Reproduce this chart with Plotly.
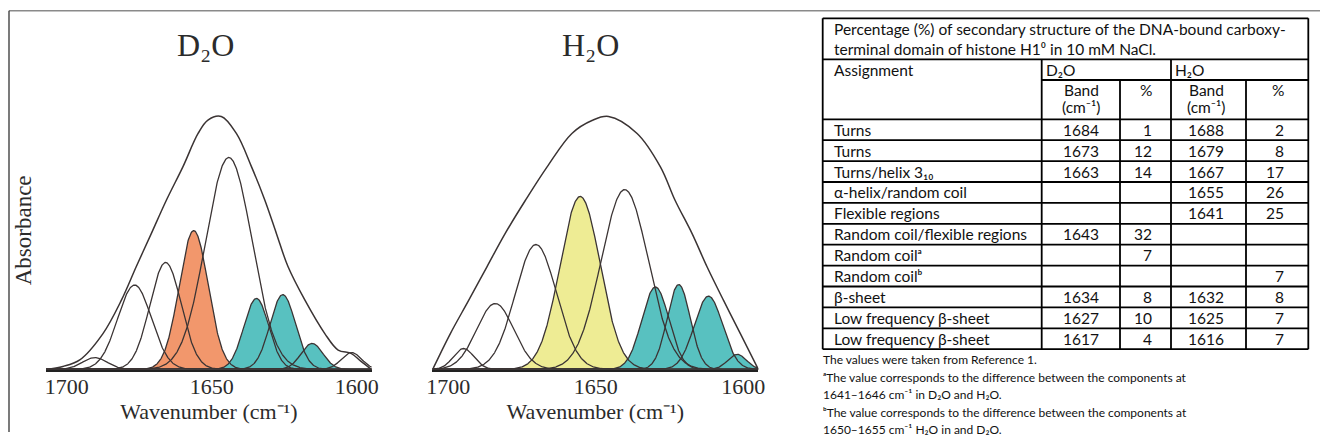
import numpy as np
import plotly.graph_objects as go

# ------------------------------------------------------------------ data
wavenumber_ticks = [1700, 1650, 1600]

# Deconvolved band components (centre cm-1, height as
# fraction of the envelope maximum, gaussian sigma in cm-1)
d2o_band_centers = [1690.3, 1676.6, 1665.9, 1656.2, 1644.1, 1634.6, 1625.5, 1615.4, 1601.8]
d2o_band_heights = [0.047, 0.334, 0.423, 0.549, 0.838, 0.281, 0.296, 0.103, 0.067]
d2o_band_sigmas = [4.3, 5.8, 5.4, 5.0, 8.0, 4.3, 4.4, 3.8, 3.5]
d2o_band_groups = ["other", "other", "other", "coil", "other", "beta", "beta", "beta", "other"]

h2o_band_centers = [1694.8, 1684.1, 1670.3, 1655.3, 1640.2, 1629.8, 1621.9, 1611.8, 1602.1]
h2o_band_heights = [0.083, 0.261, 0.494, 0.684, 0.711, 0.326, 0.336, 0.290, 0.060]
h2o_band_sigmas = [3.5, 6.3, 7.0, 6.8, 8.0, 4.6, 3.9, 4.8, 3.2]
h2o_band_groups = ["other", "other", "other", "coil", "other", "beta", "beta", "beta", "beta"]

d2o_envelope_wn = [1707.4, 1701.3, 1695.5, 1687.5, 1681.1, 1676.0, 1670.8, 1665.6, 1659.9,
                   1654.7, 1651.3, 1646.7, 1641.5, 1636.3, 1631.7, 1627.7, 1623.7, 1617.9,
                   1611.0, 1606.4, 1601.8, 1598.5, 1594.9]
d2o_envelope_abs = [0.0, 0.012, 0.038, 0.142, 0.275, 0.407, 0.538, 0.670, 0.802,
                    0.933, 0.986, 1.0, 0.933, 0.802, 0.670, 0.538, 0.407, 0.275,
                    0.142, 0.077, 0.063, 0.032, 0.0]

h2o_envelope_wn = [1705.3, 1699.3, 1693.1, 1686.9, 1680.7, 1673.9, 1666.5, 1658.1, 1651.3,
                   1645.7, 1636.0, 1628.1, 1623.1, 1617.4, 1612.3, 1606.7, 1601.0, 1594.9]
h2o_envelope_abs = [0.0, 0.142, 0.273, 0.406, 0.538, 0.668, 0.801, 0.933, 0.984,
                    1.0, 0.933, 0.801, 0.668, 0.538, 0.406, 0.273, 0.142, 0.0]

# Table
table_caption = ["Percentage (%) of secondary structure of the DNA-bound carboxy-",
                 "terminal domain of histone H1⁰ in 10 mM NaCl."]
table_assignments = ["Turns", "Turns", "Turns/helix 3₁₀", "α-helix/random coil",
                     "Flexible regions", "Random coil/flexible regions", "Random coilᵃ",
                     "Random coilᵇ", "β-sheet", "Low frequency β-sheet",
                     "Low frequency β-sheet"]
table_d2o_band = ["1684", "1673", "1663", "", "", "1643", "", "", "1634", "1627", "1617"]
table_d2o_pct = ["1", "12", "14", "", "", "32", "7", "", "8", "10", "4"]
table_h2o_band = ["1688", "1679", "1667", "1655", "1641", "", "", "", "1632", "1625", "1616"]
table_h2o_pct = ["2", "8", "17", "26", "25", "", "", "7", "8", "7", "7"]
table_footnotes = ["The values were taken from Reference 1.",
                   "ᵃThe value corresponds to the difference between the components at",
                   "1641–1646 cm⁻¹ in D₂O and H₂O.",
                   "ᵇThe value corresponds to the difference between the components at",
                   "1650–1655 cm⁻¹ H₂O in and D₂O."]

# ------------------------------------------------------------------ style
W, H = 1320, 442


def px(x):
    return x / W


def py(y):
    return 1 - y / H


SERIF = "Liberation Serif, Times New Roman, serif"
SANS = "Lato, Carlito, Calibri, sans-serif"
CURVE = "#3b3434"
AXTXT = "#2b2b2b"
TEAL = "#58C1C0"

panels = [
    dict(title="D₂O", centers=d2o_band_centers, heights=d2o_band_heights,
         sigmas=d2o_band_sigmas, groups=d2o_band_groups, env_x=d2o_envelope_wn,
         env_y=d2o_envelope_abs, dom=(46, 371.7), rng=(1707.14, 1594.83), title_x=205,
         colors={"coil": "#F2976C", "beta": TEAL}, ytitle="Absorbance"),
    dict(title="H₂O", centers=h2o_band_centers, heights=h2o_band_heights,
         sigmas=h2o_band_sigmas, groups=h2o_band_groups, env_x=h2o_envelope_wn,
         env_y=h2o_envelope_abs, dom=(432.3, 758.3), rng=(1705.42, 1594.92), title_x=590,
         colors={"coil": "#EEEC94", "beta": TEAL}, ytitle=None),
]

BASE_PX = 369.5
UNIT_PX = 253.0
YMAX = 1.1
ydom = [py(BASE_PX), py(BASE_PX - YMAX * UNIT_PX)]

fig = go.Figure()
layout_axes = {}
annotations = []

for i, p in enumerate(panels):
    xa = "x" if i == 0 else f"x{i + 1}"
    ya = "y" if i == 0 else f"y{i + 1}"
    grid = np.linspace(p["rng"][0], p["rng"][1], 900)
    curves = [h * np.exp(-0.5 * ((grid - c) / s) ** 2)
              for c, h, s in zip(p["centers"], p["heights"], p["sigmas"])]
    # coloured fills first
    for g, y in zip(p["groups"], curves):
        if g in p["colors"]:
            fig.add_trace(go.Scatter(x=grid, y=y, mode="lines", fill="tozeroy",
                                     fillcolor=p["colors"][g], line=dict(width=0, color=p["colors"][g]),
                                     xaxis=xa, yaxis=ya, hoverinfo="skip", showlegend=False))
    # outlines
    for y in curves:
        fig.add_trace(go.Scatter(x=grid, y=y, mode="lines",
                                 line=dict(color=CURVE, width=1.3),
                                 xaxis=xa, yaxis=ya, hoverinfo="skip", showlegend=False))
    fig.add_trace(go.Scatter(x=p["env_x"], y=p["env_y"], mode="lines",
                             line=dict(color=CURVE, width=1.5, shape="spline", smoothing=1.0),
                             xaxis=xa, yaxis=ya, hoverinfo="skip", showlegend=False))

    kx = "xaxis" if i == 0 else f"xaxis{i + 1}"
    ky = "yaxis" if i == 0 else f"yaxis{i + 1}"
    layout_axes[kx] = dict(domain=[px(p["dom"][0]), px(p["dom"][1])], range=list(p["rng"]),
                           anchor=ya, tickvals=wavenumber_ticks, ticks="", showgrid=False,
                           zeroline=False, showline=True, linecolor="#222", linewidth=2,
                           automargin=False,
                           tickfont=dict(family=SERIF, size=22, color=AXTXT),
                           ticklabelstandoff=-4,
                           title=dict(text="Wavenumber (cm⁻¹)",
                                      font=dict(family=SERIF, size=22, color=AXTXT), standoff=0))
    ydict = dict(domain=ydom, range=[0, YMAX], anchor=xa, showticklabels=False,
                 showgrid=False, zeroline=False, showline=False, ticks="", automargin=False)
    if p["ytitle"]:
        ydict["title"] = dict(text=p["ytitle"], font=dict(family=SERIF, size=23, color=AXTXT),
                              standoff=6)
    layout_axes[ky] = ydict
    annotations.append(dict(text=p["title"], x=px(p["title_x"]), y=py(45), xref="paper", yref="paper",
                            showarrow=False, xanchor="center", yanchor="middle",
                            font=dict(family=SERIF, size=32, color=AXTXT)))

# ------------------------------------------------------------------ table
L, C1, C2, C3, C4, R = 822.7, 1041.7, 1120.0, 1171.0, 1246.0, 1308.3
T0, T1, T2, T3 = 18.3, 59.3, 80.0, 119.3
ROW_H = 20.9
n_rows = len(table_assignments)
BOT = T3 + ROW_H * n_rows

shapes = []


def hline(y, x0, x1, color="#000", width=1.8):
    shapes.append(dict(type="line", xref="paper", yref="paper", x0=px(x0), x1=px(x1),
                       y0=py(y), y1=py(y), line=dict(color=color, width=width)))


def vline(x, y0, y1, color="#000", width=1.8):
    shapes.append(dict(type="line", xref="paper", yref="paper", x0=px(x), x1=px(x),
                       y0=py(y0), y1=py(y1), line=dict(color=color, width=width)))


# frame of the composite figure
hline(10.8, 9, W, color="#8a8a8a", width=1.6)
vline(9, 10.8, 432, color="#333", width=1.3)

hline(T0, L, R)
hline(T1, L, R)
hline(T2, C1, R)
for k in range(n_rows + 1):
    hline(T3 + ROW_H * k, L, R)
vline(L, T0, BOT)
vline(R, T0, BOT)
vline(C1, T1, BOT)
vline(C3, T1, BOT)
vline(C2, T2, BOT)
vline(C4, T2, BOT)

TF = dict(family=SANS, size=15.5, color="#111")


def text(s, x, y, anchor="left", font=TF, align="left"):
    annotations.append(dict(text=s, x=px(x), y=py(y), xref="paper", yref="paper", showarrow=False,
                            xanchor=anchor, yanchor="middle", font=font, align=align))


text("<br>".join(table_caption), 832, 38.5)
text("Assignment", 832, 69.5)
text("D₂O", 1044, 69.5)
text("H₂O", 1173, 69.5)
text("Band", 1081, 90.5, "center")
text("(cm⁻¹)", 1081, 107, "center")
text("%", 1154, 90.5, "right")
text("Band", 1206, 90.5, "center")
text("(cm⁻¹)", 1206, 107, "center")
text("%", 1286, 90.5, "right")

for k in range(n_rows):
    yc = T3 + ROW_H * (k + 0.5)
    text(table_assignments[k], 832, yc)
    if table_d2o_band[k]:
        text(table_d2o_band[k], 1081, yc, "center")
    if table_d2o_pct[k]:
        text(table_d2o_pct[k], 1154, yc, "right")
    if table_h2o_band[k]:
        text(table_h2o_band[k], 1206, yc, "center")
    if table_h2o_pct[k]:
        text(table_h2o_pct[k], 1286, yc, "right")

FN = dict(family=SANS, size=12, color="#111")
for k, s in enumerate(table_footnotes):
    text(s, 821, 359.5 + 17.6 * k, "left", FN)

fig.update_layout(width=W, height=H, margin=dict(l=0, r=0, t=0, b=0, autoexpand=False),
                  paper_bgcolor="white", plot_bgcolor="white", showlegend=False,
                  shapes=shapes, annotations=annotations, **layout_axes)

# the page body has a default 8 px margin; remove it so the figure fills the window
fig.write_html("out.html", config={"displayModeBar": False},
               post_script="document.body.style.margin='0px';")
